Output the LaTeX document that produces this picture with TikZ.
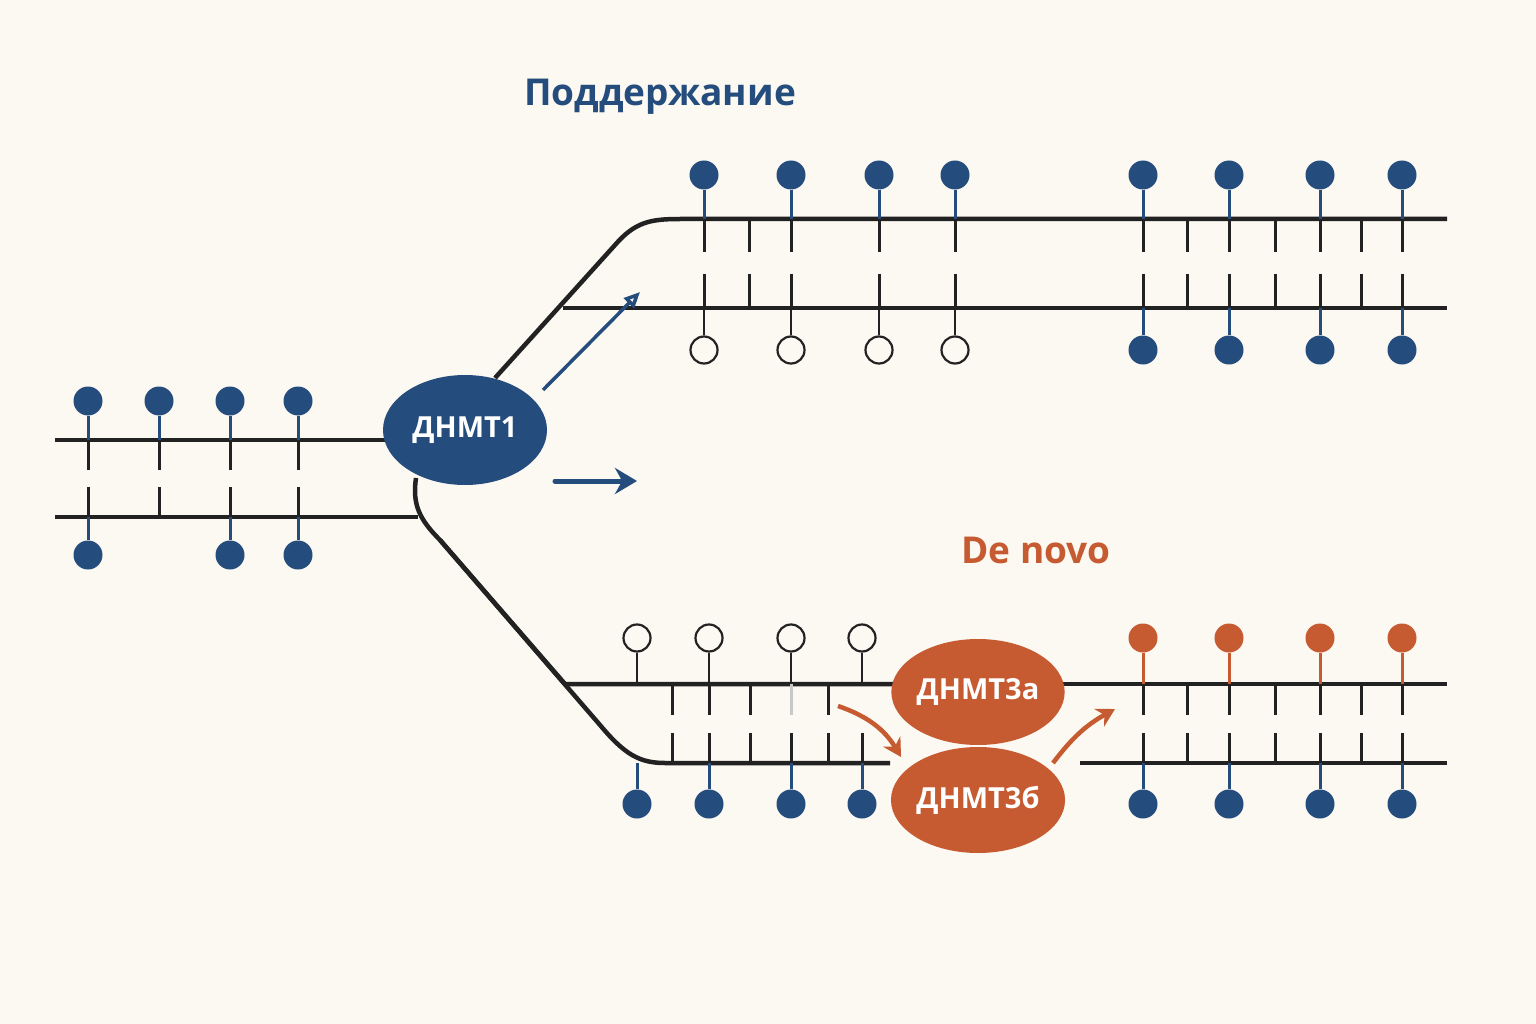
\documentclass[tikz,border=0pt]{standalone}
\usepackage{fontspec}
\setmainfont{Open Sans}
\usetikzlibrary{arrows.meta,shapes.geometric}
\definecolor{bg}{HTML}{FCF8F2}
\definecolor{nb}{HTML}{244C7C}
\definecolor{org}{HTML}{C65A30}
\definecolor{ink}{HTML}{222222}
\begin{document}
\begin{tikzpicture}[x=1pt,y=-1pt,
 strand/.style={ink,line width=4.5pt},
 tick/.style={ink,line width=3pt},
 bstem/.style={nb,line width=3pt},
 ostem/.style={org,line width=3pt},
 kstem/.style={ink,line width=2.5pt},
 mb/.style={circle,fill=nb,minimum size=29pt,inner sep=0pt},
 mo/.style={circle,fill=org,minimum size=29pt,inner sep=0pt},
 mu/.style={circle,draw=ink,line width=2.2pt,fill=bg,minimum size=27pt,inner sep=0pt},
 enz/.style={ellipse,minimum width=164pt,minimum height=110pt,inner sep=0pt,text=white,font=\bfseries\fontsize{29}{29}\selectfont},
 ttl/.style={font=\bfseries\fontsize{37}{37}\selectfont}]
\fill[bg] (0,0) rectangle (1536,1024);
\useasboundingbox (0,0) rectangle (1536,1024);
\node[ttl,text=nb] (t1) at (660,97) {Поддержание};
\node[ttl,text=org] (t2) at (1036,550) {De novo};
% left duplex
\draw[strand] (55,440) -- (390,440);
\draw[strand] (55,517) -- (418,517);
\foreach \x in {88,159,230,298}{
 \draw[tick] (\x,440) -- (\x,470); \draw[tick] (\x,487) -- (\x,517);
 \node[mb] (lt\x) at (\x,401) {}; \draw[bstem] (lt\x) -- (\x,440);}
\foreach \x in {88,230,298}{\node[mb] (lb\x) at (\x,555) {}; \draw[bstem] (lb\x) -- (\x,517);}
% upper branch
\draw[strand] (495,378) -- (615,245) .. controls (635,222) and (650,219) .. (680,219) -- (1447,219);
\draw[strand] (563,308) -- (1447,308);
\foreach \x in {704,749,791,879,955,1143,1187,1229,1275,1320,1361,1402}{
 \draw[tick] (\x,219) -- (\x,252); \draw[tick] (\x,274) -- (\x,308);}
\foreach \x in {704,791,879,955,1143,1229,1320,1402}{\node[mb] (ut\x) at (\x,175) {}; \draw[bstem] (ut\x) -- (\x,219);}
\foreach \x in {704,791,879,955}{\node[mu] (ub\x) at (\x,350) {}; \draw[kstem] (ub\x) -- (\x,308);}
\foreach \x in {1143,1229,1320,1402}{\node[mb] (ub\x) at (\x,350) {}; \draw[bstem] (ub\x) -- (\x,308);}
% lower branch
\draw[strand] (416,478) .. controls (412,505) and (420,520) .. (440,540) -- (565,684) -- (900,684);
\draw[strand] (440,540) -- (600,725) .. controls (625,755) and (640,763) .. (665,763) -- (890,763);
\draw[strand] (1055,684) -- (1447,684);
\draw[strand] (1080,763) -- (1447,763);
\foreach \x in {672,709,750,828}{\draw[tick] (\x,684) -- (\x,715);}
\draw[tick,ink!25] (791,684) -- (791,715);
\foreach \x in {672,709,750,791,828,862}{\draw[tick] (\x,733) -- (\x,763);}
\foreach \x in {637,709,791,862}{\node[mu] (lo\x) at (\x,638) {}; \draw[kstem] (lo\x) -- (\x,684);
 \node[mb] (lm\x) at (\x,804) {}; \draw[bstem] (lm\x) -- (\x,763);}
\foreach \x in {1143,1187,1229,1275,1320,1361,1402}{
 \draw[tick] (\x,684) -- (\x,715); \draw[tick] (\x,733) -- (\x,763);}
\foreach \x in {1143,1229,1320,1402}{\node[mo] (ro\x) at (\x,638) {}; \draw[ostem] (ro\x) -- (\x,684);
 \node[mb] (rb\x) at (\x,804) {}; \draw[bstem] (rb\x) -- (\x,763);}
% enzymes
\node[enz,fill=nb] (d1) at (465,430) {ДНМТ1};
\node[enz,fill=org,minimum width=160pt,minimum height=106pt] (d3a) at (978,692) {ДНМТ3а};
\node[enz,fill=org,minimum width=160pt,minimum height=106pt] (d3b) at (978,800) {ДНМТ3б};
% arrows
\coordinate (a1s) at (543,390); \coordinate (a1e) at (640,292);
\draw[nb,line width=3.5pt,-{Triangle[open,length=16pt,width=14pt]}] (a1s) -- (a1e);
\coordinate (a2s) at (555,481); \coordinate (a2e) at (637,481);
\draw[nb,line width=5pt,line cap=round,-{Stealth[length=22pt,width=26pt]}] (a2s) -- (a2e);
\coordinate (a3s) at (838,706); \coordinate (a3e) at (901,757);
\draw[org,line width=4.5pt,-{Stealth[length=18pt,width=20pt]}] (a3s) to[bend left=20] (a3e);
\coordinate (a4s) at (1053,763); \coordinate (a4e) at (1115,709);
\draw[org,line width=4.5pt,-{Stealth[length=18pt,width=20pt]}] (a4s) to[bend left=12] (a4e);
\end{tikzpicture}
\end{document}
